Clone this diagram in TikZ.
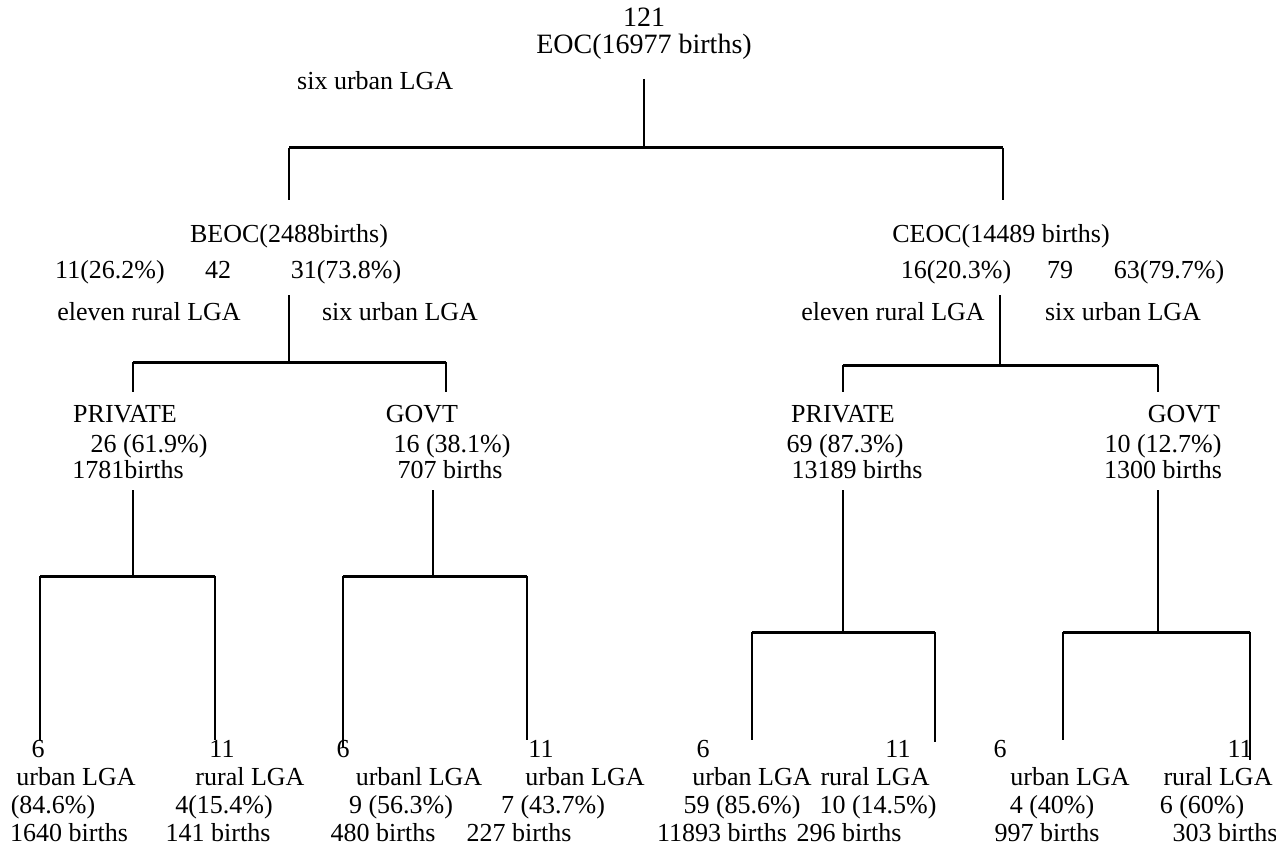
\documentclass[tikz,border=0pt]{standalone}
\usepackage{fontspec}
\setmainfont{Liberation Serif}
\begin{document}
\begin{tikzpicture}[x=1pt,y=-1pt,
  every node/.style={font=\fontsize{26}{28}\selectfont, inner sep=0pt, anchor=base},
  big/.style={font=\fontsize{28}{30}\selectfont},
  conn/.style={line width=2.4pt},
  bar/.style={line width=3pt}]
\useasboundingbox (0,0) rectangle (1276,850);
% ---------- top ----------
\node[big] (n121) at (644,27) {121};
\node[big] (eoc) at (644,54) {EOC(16977 births)};
\node[anchor=base west] (topsix) at (297,90) {six urban LGA};
\coordinate (eocbot) at (644,79);
\coordinate (j0) at (644,148);
\coordinate (bl) at (289,148);
\coordinate (br) at (1003,148);
\coordinate (beoctop) at (289,200);
\coordinate (ceoctop) at (1003,200);
\draw[conn] (eocbot) -- (j0);
\draw[bar] (bl) -- (br);
\draw[conn] (bl) -- (beoctop);
\draw[conn] (br) -- (ceoctop);
% ---------- BEOC ----------
\node (beoc) at (289,243) {BEOC(2488births)};
\node (bx1) at (110,278) {11(26.2\%)};
\node (bx2) at (218,278) {42};
\node (bx3) at (346,278) {31(73.8\%)};
\node (bru) at (149,320) {eleven rural LGA};
\node (bur) at (400,320) {six urban LGA};
\coordinate (bv1) at (289,295);
\coordinate (bv2) at (289,362);
\coordinate (bbl) at (133,362);
\coordinate (bbr) at (446,362);
\coordinate (bpt) at (133,392);
\coordinate (bgt) at (446,392);
\draw[conn] (bv1) -- (bv2);
\draw[bar] (bbl) -- (bbr);
\draw[conn] (bbl) -- (bpt);
\draw[conn] (bbr) -- (bgt);
% ---------- CEOC ----------
\node (ceoc) at (1001,243) {CEOC(14489 births)};
\node (cx1) at (956,278) {16(20.3\%)};
\node (cx2) at (1060,278) {79};
\node (cx3) at (1169,278) {63(79.7\%)};
\node (cru) at (893,320) {eleven rural LGA};
\node (cur) at (1123,320) {six urban LGA};
\coordinate (cv1) at (1000,295);
\coordinate (cv2) at (1000,365);
\coordinate (cbl) at (843,365);
\coordinate (cbr) at (1158,365);
\coordinate (cpt) at (843,392);
\coordinate (cgt) at (1158,392);
\draw[conn] (cv1) -- (cv2);
\draw[bar] (cbl) -- (cbr);
\draw[conn] (cbl) -- (cpt);
\draw[conn] (cbr) -- (cgt);
% ---------- middle level ----------
\node (p1a) at (125,422) {PRIVATE};
\node (p1b) at (149,452) {26 (61.9\%)};
\node (p1c) at (128,478) {1781births};
\node (g1a) at (422,422) {GOVT};
\node (g1b) at (452,452) {16 (38.1\%)};
\node (g1c) at (450,478) {707 births};
\node (p2a) at (843,422) {PRIVATE};
\node (p2b) at (845,452) {69 (87.3\%)};
\node (p2c) at (857,478) {13189 births};
\node (g2a) at (1184,422) {GOVT};
\node (g2b) at (1163,452) {10 (12.7\%)};
\node (g2c) at (1163,478) {1300 births};
% ---------- lower brackets ----------
\coordinate (p1v1) at (133,490);
\coordinate (p1v2) at (133,576);
\coordinate (p1l) at (40,576);
\coordinate (p1r) at (215,576);
\coordinate (l1t) at (40,740);
\coordinate (l2t) at (215,740);
\draw[conn] (p1v1) -- (p1v2);
\draw[bar] (p1l) -- (p1r);
\draw[conn] (p1l) -- (l1t);
\draw[conn] (p1r) -- (l2t);
\coordinate (g1v1) at (433,490);
\coordinate (g1v2) at (433,576);
\coordinate (g1l) at (343,576);
\coordinate (g1r) at (527,576);
\coordinate (l3t) at (343,748);
\coordinate (l4t) at (527,740);
\draw[conn] (g1v1) -- (g1v2);
\draw[bar] (g1l) -- (g1r);
\draw[conn] (g1l) -- (l3t);
\draw[conn] (g1r) -- (l4t);
\coordinate (p2v1) at (843,490);
\coordinate (p2v2) at (843,632);
\coordinate (p2l) at (752,632);
\coordinate (p2r) at (935,632);
\coordinate (l5t) at (752,740);
\coordinate (l6t) at (935,742);
\draw[conn] (p2v1) -- (p2v2);
\draw[bar] (p2l) -- (p2r);
\draw[conn] (p2l) -- (l5t);
\draw[conn] (p2r) -- (l6t);
\coordinate (g2v1) at (1158,490);
\coordinate (g2v2) at (1158,632);
\coordinate (g2l) at (1063,632);
\coordinate (g2r) at (1250,632);
\coordinate (l7t) at (1063,740);
\coordinate (l8t) at (1250,760);
\draw[conn] (g2v1) -- (g2v2);
\draw[bar] (g2l) -- (g2r);
\draw[conn] (g2l) -- (l7t);
\draw[conn] (g2r) -- (l8t);
% ---------- leaves ----------
\node (a1) at (38,757) {6};
\node (a2) at (76,785) {urban LGA};
\node (a3) at (53,813) {(84.6\%)};
\node (a4) at (69,841) {1640 births};
\node (b1) at (222,757) {11};
\node (b2) at (250,785) {rural LGA};
\node (b3) at (224,813) {4(15.4\%)};
\node (b4) at (218,841) {141 births};
\node (c1) at (343,757) {6};
\node (c2) at (419,785) {urbanl LGA};
\node (c3) at (401,813) {9 (56.3\%)};
\node (c4) at (383,841) {480 births};
\node (d1) at (541,757) {11};
\node (d2) at (585,785) {urban LGA};
\node (d3) at (553,813) {7 (43.7\%)};
\node (d4) at (519,841) {227 births};
\node (e1) at (703,757) {6};
\node (e2) at (752,785) {urban LGA};
\node (e3) at (742,813) {59 (85.6\%)};
\node (e4) at (722,841) {11893 births};
\node (f1) at (898,757) {11};
\node (f2) at (875,785) {rural LGA};
\node (f3) at (878,813) {10 (14.5\%)};
\node (f4) at (849,841) {296 births};
\node (h1) at (1000,757) {6};
\node (h2) at (1070,785) {urban LGA};
\node (h3) at (1052,813) {4 (40\%)};
\node (h4) at (1047,841) {997 births};
\node (k1) at (1240,757) {11};
\node (k2) at (1218,785) {rural LGA};
\node (k3) at (1202,813) {6 (60\%)};
\node (k4) at (1225,841) {303 births};
\end{tikzpicture}
\end{document}
